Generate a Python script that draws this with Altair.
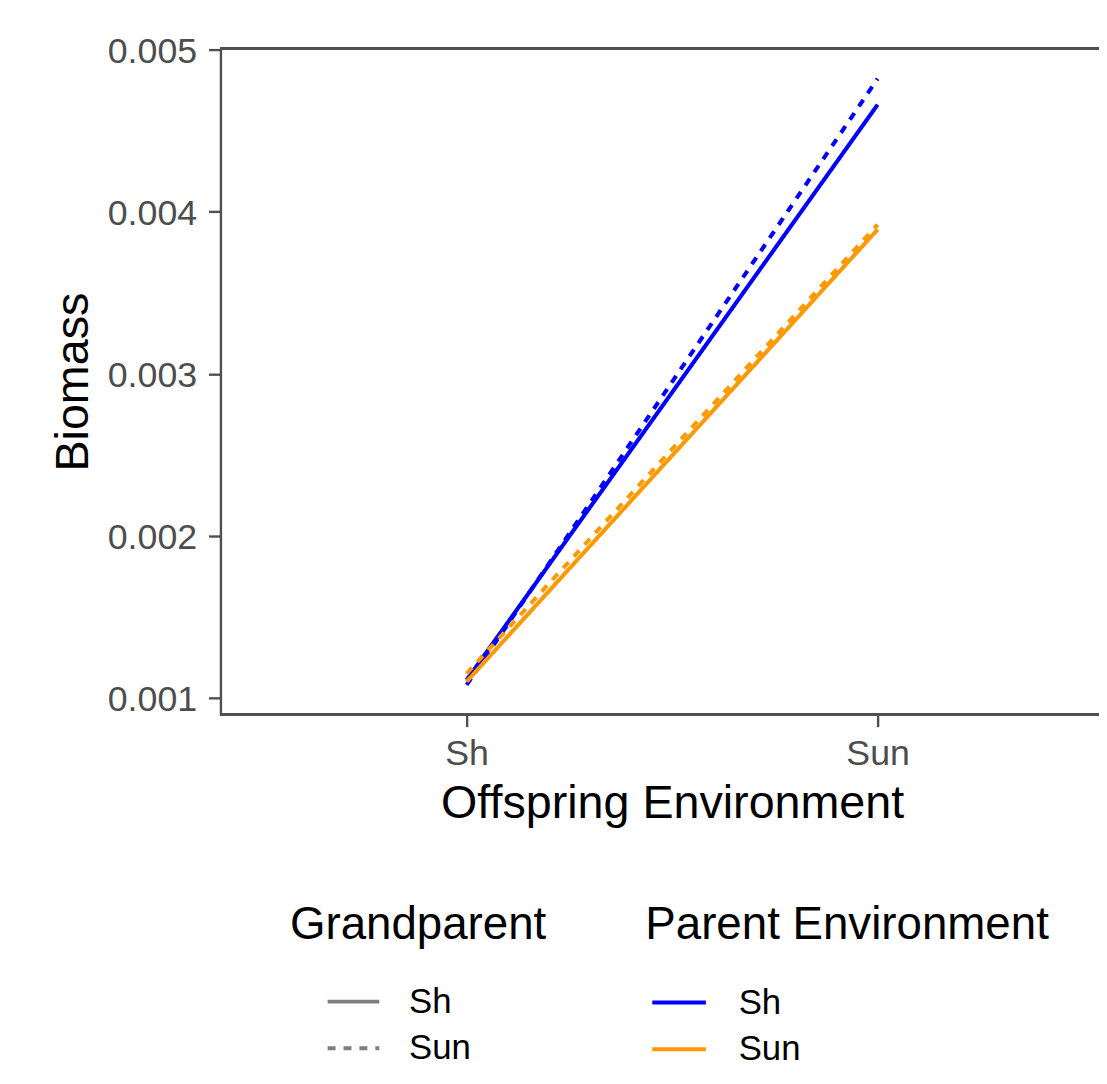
import altair as alt
import pandas as pd

# Data
offspring_env = ["Sh", "Sun"]
parent_env = ["Sh", "Sh", "Sun", "Sun"]
grandparent_env = ["Sh", "Sun", "Sh", "Sun"]
biomass_at_sh = [0.00111, 0.00108, 0.00110, 0.00115]
biomass_at_sun = [0.00466, 0.00482, 0.00389, 0.00392]
y_ticks = [0.001, 0.002, 0.003, 0.004, 0.005]

rows = []
for p, g, a, b in zip(parent_env, grandparent_env, biomass_at_sh, biomass_at_sun):
    for env, val in zip(offspring_env, [a, b]):
        rows.append({"Offspring": env, "Parent": p, "Grandparent": g,
                     "Biomass": val, "series": p + "_" + g})
df = pd.DataFrame(rows)

FONT = "Liberation Sans"
AX = "#505050"
W, H = 885, 671

lines = alt.Chart(df).mark_line(strokeWidth=4.1, strokeCap="butt").encode(
    x=alt.X("Offspring:N",
            scale=alt.Scale(type="point", padding=0, range=[248, 662]),
            axis=alt.Axis(title="Offspring Environment", labelAngle=0, domain=False,
                          titleX=455, titleY=104, titleBaseline="alphabetic",
                          titleAlign="center", titleAnchor="middle")),
    y=alt.Y("Biomass:Q",
            scale=alt.Scale(domain=[0.000896, 0.005006], nice=False, zero=False),
            axis=alt.Axis(title="Biomass", values=y_ticks, format=".3f",
                          titleX=-134, titleY=335.5, titleBaseline="alphabetic",
                          titleAlign="center", titleAngle=-90,
                          labelPadding=12, labelOffset=2)),
    color=alt.Color("Parent:N",
                    scale=alt.Scale(range=["#0000FF", "#FF9900"]),
                    legend=alt.Legend(title="Parent Environment", orient="none",
                                      legendX=428, legendY=861,
                                      symbolType="stroke", symbolSize=2916,
                                      symbolStrokeWidth=4, symbolOffset=5,
                                      labelOffset=31, titlePadding=25,
                                      rowPadding=0, titleLimit=1000,
                                      labelLimit=1000)),
    strokeDash=alt.StrokeDash("Grandparent:N",
                              scale=alt.Scale(range=[[1, 0], [8, 8]]),
                              legend=alt.Legend(title="Grandparent", orient="none",
                                                legendX=70, legendY=861,
                                                symbolType="stroke", symbolSize=2704,
                                                symbolStrokeWidth=4,
                                                symbolStrokeColor="#7F7F7F",
                                                symbolOffset=36, labelOffset=28,
                                                titlePadding=25, rowPadding=1,
                                                titleLimit=1000, labelLimit=1000)),
    detail="series:N",
)

top_border = alt.Chart(df).mark_rule(color=AX, strokeWidth=2.4).encode(
    x=alt.value(0), x2=alt.value(W), y=alt.value(0)
)
bottom_border = alt.Chart(df).mark_rule(color=AX, strokeWidth=2.4).encode(
    x=alt.value(0), x2=alt.value(W), y=alt.value(H)
)

chart = alt.layer(lines, top_border, bottom_border).properties(
    width=W, height=H,
    autosize=alt.AutoSizeParams(type="none"),
    padding={"left": 214, "top": 37, "right": 0, "bottom": 355},
).configure_view(stroke=None).configure_axis(
    domainColor=AX, domainWidth=2.4, tickColor=AX, tickWidth=2.4, tickSize=12,
    labelColor="#4D4D4D", labelFont=FONT, labelFontSize=36, labelPadding=10,
    titleColor="#000000", titleFont=FONT, titleFontSize=47, titleFontWeight="normal",
    grid=False,
).configure_legend(
    titleFont=FONT, titleFontSize=46, titleFontWeight="normal", titleColor="#000000",
    labelFont=FONT, labelFontSize=35, labelColor="#000000", padding=0,
)

chart.save("out.html", embed_options={"renderer": "svg", "actions": False})
